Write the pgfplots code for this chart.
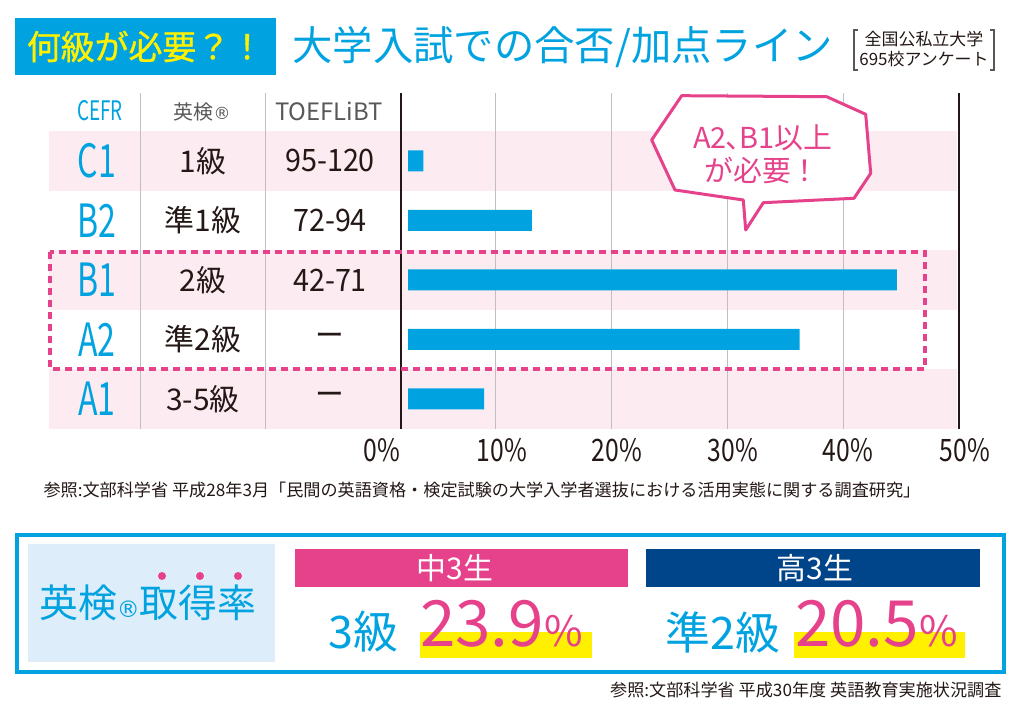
\documentclass[border=0pt]{standalone}
\usepackage{fontspec}
\usepackage{pgfplots}
\pgfplotsset{compat=1.18}
\setmainfont{Noto Sans CJK JP}
\newfontfamily\condA[FakeStretch=0.7]{Noto Sans CJK JP}
\newfontfamily\condB[FakeStretch=0.8]{Noto Sans CJK JP}
\newfontfamily\condC[FakeStretch=0.93]{Noto Sans CJK JP}
\newfontfamily\heavy[FakeBold=1]{Noto Sans CJK JP}
\newfontfamily\dejavu{DejaVu Sans}
\newcommand\fs[1]{\fontsize{#1}{#1}\selectfont}

\definecolor{cyanb}{HTML}{00A3E0}
\definecolor{pinkb}{HTML}{E6428B}
\definecolor{band}{HTML}{FCEBF1}
\definecolor{yel}{HTML}{FFF000}
\definecolor{navy}{HTML}{004589}
\definecolor{lightb}{HTML}{DDEDF9}
\definecolor{dark}{HTML}{231815}
\definecolor{graytxt}{HTML}{595757}
\definecolor{grid}{HTML}{BFBFBF}

% one table row: y, CEFR, Eiken, TOEFL
\newcommand\tabrow[4]{%
  \node[text=cyanb,font=\condA\fs{46}] at (axis cs:-26.84,#1) {#2};
  \node[text=dark,font=\fs{30}] at (axis cs:-17.69,#1) {#3};
  \node[text=dark,font=\condC\fs{31}] at (axis cs:-6.73,#1) {#4};
}

\begin{document}
\begin{tikzpicture}[x=1bp,y=1bp]
\useasboundingbox (0,0) rectangle (1024,702);

% title row
\fill[cyanb] (15,627) rectangle (276,684);
\node[text=yel,font=\heavy\fs{34}] at (145.5,655.5) {何級が必要？！};
\node[anchor=west,text=cyanb,font=\fs{40.5}] at (289,655) {大学入試での合否/加点ライン};
\draw[graytxt,line width=1.2bp] (858,672)--(854,672)--(854,632)--(858,632);
\draw[graytxt,line width=1.2bp] (990,672)--(994,672)--(994,632)--(990,632);
\node[text=dark,font=\fs{17}] at (924,663) {全国公私立大学};
\node[text=dark,font=\fs{17}] at (924,643) {695校アンケート};

\begin{axis}[
    at={(49bp,273.25bp)}, anchor=south west,
    scale only axis, width=975bp, height=336.2bp,
    xmin=-30.99, xmax=53.17, ymin=-0.5, ymax=5.15,
    axis line style={draw=none}, clip=false,
    ytick=\empty,
    xtick={-2.24,8.11,18.04,28.05,37.97,48.07},
    xticklabels={0\%,10\%,20\%,30\%,40\%,50\%},
    major tick length=0pt,
    xticklabel style={anchor=center, yshift=-21bp, text=dark, font=\condB\fs{31}},
    xbar, bar width=21bp,
]
    % row bands
    \fill[band] (axis cs:-30.99,3.5) rectangle (axis cs:47.38,4.5);
    \fill[band] (axis cs:-30.99,1.5) rectangle (axis cs:47.38,2.5);
    \fill[band] (axis cs:-30.99,-0.5) rectangle (axis cs:47.38,0.5);
    % column dividers and grid
    \draw[grid,line width=1bp] (axis cs:-23.13,-0.5) -- (axis cs:-23.13,5.15);
    \draw[grid,line width=1bp] (axis cs:-12.28,-0.5) -- (axis cs:-12.28,5.15);
    \draw[grid,line width=1bp] (axis cs:7.57,-0.5) -- (axis cs:7.57,5.15);
    \draw[grid,line width=1bp] (axis cs:17.58,-0.5) -- (axis cs:17.58,5.15);
    \draw[grid,line width=1bp] (axis cs:27.56,-0.5) -- (axis cs:27.56,5.15);
    \draw[grid,line width=1bp] (axis cs:37.57,-0.5) -- (axis cs:37.57,5.15);
    \draw[dark,line width=2bp] (axis cs:-0.60,-0.5) -- (axis cs:-0.60,5.15);
    \draw[dark,line width=2bp] (axis cs:47.56,-0.5) -- (axis cs:47.56,5.15);

    \addplot[fill=cyanb, draw=none] coordinates {
        (1.32,4) (10.68,3) (42.2,2) (33.8,1) (6.56,0)
    };

    % headers
    \node[text=cyanb,font=\condA\fs{27}] at (axis cs:-26.58,4.84) {CEFR};
    \node[text=graytxt,font=\fs{20}] at (axis cs:-17.78,4.82) {英検{\dejavu\fs{17}®}};
    \node[text=graytxt,font=\fs{24}] at (axis cs:-6.82,4.84) {TOEFLiBT};
    % table body
    \tabrow{4}{C1}{1級}{95-120}
    \tabrow{3}{B2}{準1級}{72-94}
    \tabrow{2}{B1}{2級}{42-71}
    \tabrow{1}{A2}{準2級}{ー}
    \tabrow{0}{A1}{3-5級}{ー}
\end{axis}

% speech bubble
\draw[pinkb,fill=white,line width=3bp,line join=round]
  (681.7,606.3) -- (826.7,605.3) -- (865.7,587.7) -- (870.7,528.7) -- (854,503.7)
  -- (763.3,499.3) -- (745.7,472) -- (743.3,502) -- (675,512) -- (651.7,562) -- cycle;
\node[text=pinkb,font=\fs{29}] at (763,564) {A2\hspace{-0.05em}、\hspace{-0.5em}B1以上};
\node[text=pinkb,font=\fs{29}] at (762,532) {が必要！};

% dashed highlight
\draw[pinkb,line width=3.5bp,dash pattern=on 7bp off 5bp] (50,450) rectangle (925,333);

% source
\node[anchor=west,text=dark,font=\fs{17.2}] at (40,212)
  {参照:文部科学省 平成28年3月「民間の英語資格・検定試験の大学入学者選抜における活用実態に関する調査研究」};

% bottom panel
\draw[cyanb,line width=4bp] (16.5,167) rectangle (1004,30);
\fill[lightb] (28,158) rectangle (275,40);
\node[anchor=west,text=cyanb,inner sep=0pt] at (39,99) {{\fs{39}英検}{\dejavu\fs{23}®}{\fs{39}取得率}};
\foreach \x in {162,200,238} \fill[pinkb] (\x,126) circle (4);

\fill[pinkb] (295,153) rectangle (628,115);
\node[text=white,font=\fs{30}] at (455,134) {中3生};
\fill[navy] (646,153) rectangle (980,115);
\node[text=white,font=\fs{30}] at (815,134) {高3生};

\fill[yel] (420,70) rectangle (592,44);
\fill[yel] (794,70) rectangle (965,44);
\node[text=cyanb,font=\fs{45}] at (363,70) {3級};
\node[anchor=base west,text=pinkb,inner sep=0pt] at (420,55) {{\fs{64}23.9}{\fs{42}\%}};
\node[text=cyanb,font=\fs{45}] at (723,70) {準2級};
\node[anchor=base west,text=pinkb,inner sep=0pt] at (795,55) {{\fs{64}20.5}{\fs{42}\%}};

\node[anchor=east,text=dark,font=\fs{17.2}] at (1005,12) {参照:文部科学省 平成30年度 英語教育実施状況調査};
\end{tikzpicture}
\end{document}
